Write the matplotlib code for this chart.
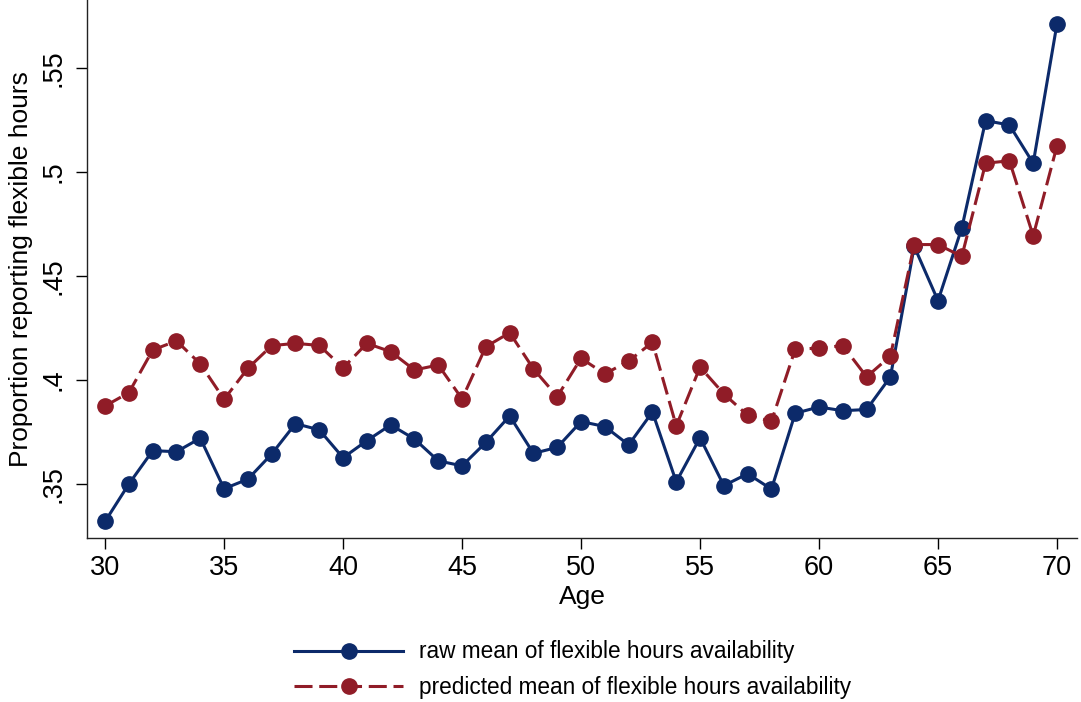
import matplotlib
matplotlib.use("Agg")
import matplotlib.pyplot as plt

plt.rcParams['font.family'] = ['Liberation Sans', 'DejaVu Sans']

ages = list(range(30, 71))
raw_mean = [0.332, 0.350, 0.366, 0.3655, 0.372, 0.3477, 0.3523, 0.3644, 0.379, 0.376,
            0.3626, 0.3708, 0.3784, 0.3716, 0.3611, 0.3587, 0.370, 0.3827, 0.3647, 0.3676,
            0.380, 0.3776, 0.3688, 0.3846, 0.351, 0.3722, 0.3492, 0.3549, 0.3475, 0.384,
            0.387, 0.3852, 0.3858, 0.4015, 0.4642, 0.4381, 0.4731, 0.5247, 0.5226, 0.5042,
            0.5713]
pred_mean = [0.3875, 0.3939, 0.4144, 0.4188, 0.4077, 0.3907, 0.4056, 0.4165, 0.4176, 0.4166,
             0.4058, 0.4176, 0.4136, 0.4048, 0.4072, 0.3909, 0.416, 0.4227, 0.4053, 0.392,
             0.4104, 0.4029, 0.4091, 0.4181, 0.3779, 0.4062, 0.3933, 0.383, 0.3801, 0.4148,
             0.4153, 0.4165, 0.4015, 0.4115, 0.4651, 0.4651, 0.4594, 0.5042, 0.5054, 0.4693,
             0.5126]
xticks = [30, 35, 40, 45, 50, 55, 60, 65, 70]
yticks = [0.35, 0.40, 0.45, 0.50, 0.55]
ytick_labels = ['.35', '.4', '.45', '.5', '.55']

blue = '#0c2a6a'
red = '#901c27'

fig = plt.figure(figsize=(10.81, 7.02), dpi=100)
ax = fig.add_axes([0.0805, 0.2336, 0.9158, 0.7664])

ax.plot(ages, raw_mean, color=blue, lw=2.2, marker='o', ms=11,
        label='raw mean of flexible hours availability')
ax.plot(ages, pred_mean, color=red, lw=2.2, marker='o', ms=11, dashes=(5.9, 2.2),
        label='predicted mean of flexible hours availability')

ax.set_xlim(29.24, 70.84)
ax.set_ylim(0.324, 0.5827)
ax.set_xticks(xticks)
ax.set_yticks(yticks)
ax.set_yticklabels(ytick_labels, rotation=90, va='center')
ax.tick_params(axis='both', direction='out', length=8, width=1, labelsize=19.5, colors='black')
ax.tick_params(axis='y', pad=7)
ax.tick_params(axis='x', pad=4)
ax.spines['top'].set_visible(False)
ax.spines['right'].set_visible(False)
for s in ['left', 'bottom']:
    ax.spines[s].set_linewidth(1.0)
    ax.spines[s].set_color('#222222')

ax.set_xlabel('Age', fontsize=19, labelpad=3)
ax.set_ylabel('Proportion reporting flexible hours', fontsize=19, labelpad=5)

fig.legend(loc='center', bbox_to_anchor=(0.5296, 0.046), frameon=False, fontsize=16.3,
           handlelength=4.8, handletextpad=0.7, labelspacing=0.55)

fig.savefig('out.png', dpi=100, facecolor='white')
